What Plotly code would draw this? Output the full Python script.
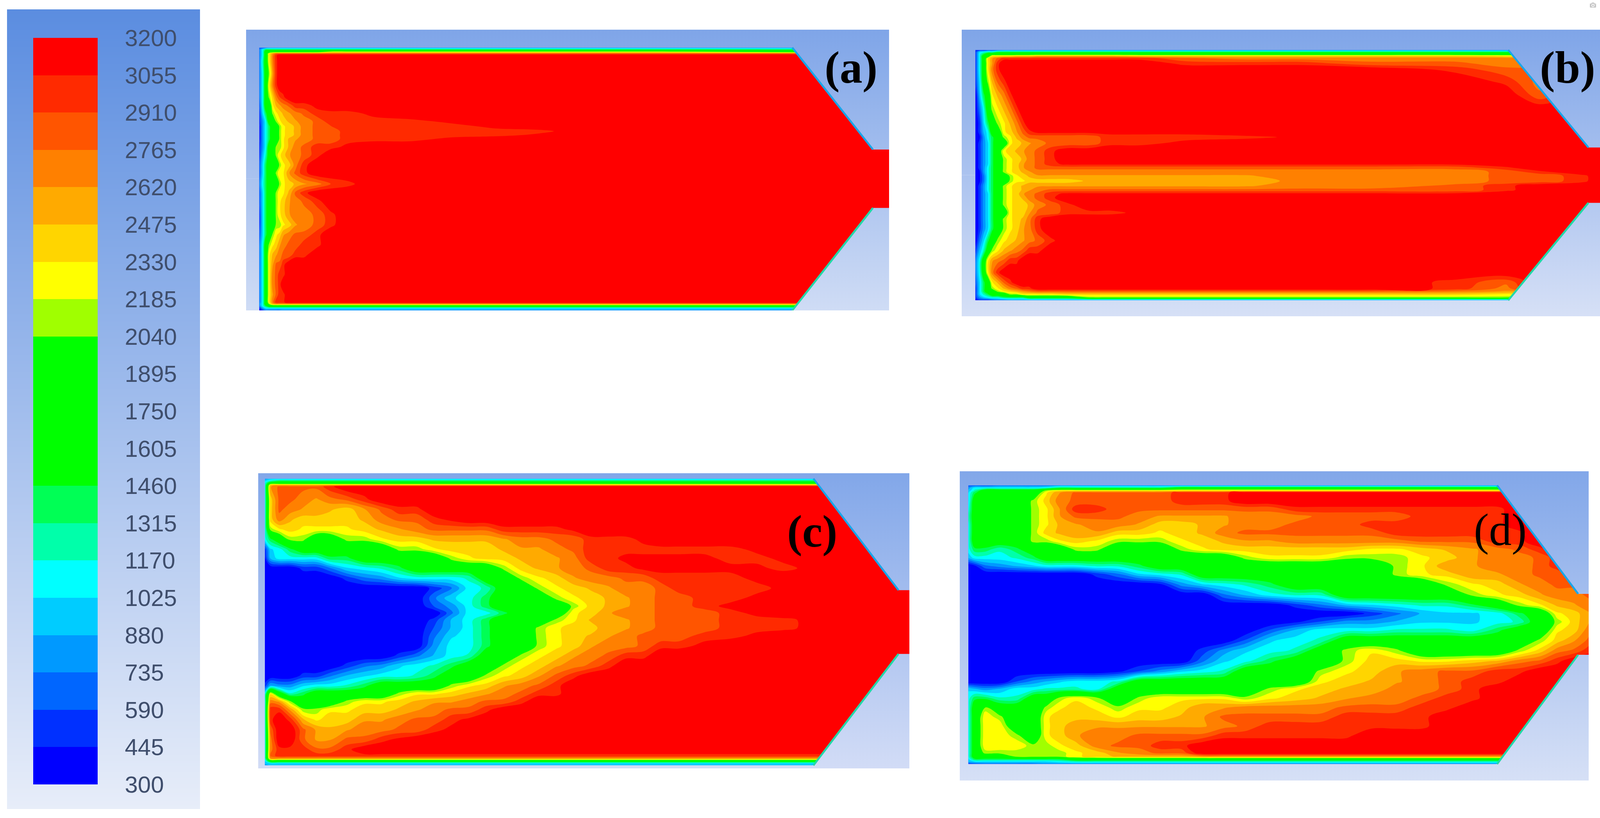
import plotly.graph_objects as go

W, H = 4124, 2095
TICKS = [3200,3055,2910,2765,2620,2475,2330,2185,2040,1895,1750,1605,1460,1315,1170,1025,880,735,590,445,300]
BANDS = ["#0000ff","#0030ff","#0066ff","#0099ff","#00ccff","#00ffff","#00ffaa","#00ff55","#00ff00","#00ff00",
         "#00ff00","#00ff00","#a0ff00","#ffff00","#ffd500","#ffaa00","#ff8000","#ff5500","#ff2a00","#ff0000"]

# temperatures in units of 100 K; a short row keeps its last value to the outlet
XA = [57,65,72,80,88,96,104,112,125,140,160,190,220,260,320,400,500,600,700,760,1000,1280,1502]
YA = [160,170,180,190,198,230,290,350,410,450,490,530,555,580,600,620,660,700,750,790,845,890,930,1000,1050,1100,1150,1200,1250,1300,1350,1400,1440,1448,1458,1470,1480]
TA = [
[6,6,7,8],
[7,11,14],
[7,11,17,17,17,17,17,17,17,17,17,17,21,21,21,21,21,21,21,21,21,17],
[7,11,17,23,26,28],
[7,11,17,23,27,30,32],
[7,12,17,23,27,30,32],
[7,11,17,21,26,30,32],
[7,11,17,23,27,30,32],
[7,11,17,21,24,27,29,30,32],
[6,11,17,17,23,25,26,27,28,30,30,31,32],
[5,10,14,17,21,23,24,25,26,27,28,30,30,30,31,32],
[5,8,11,17,17,21,23,24,25,26,27,28,30,30,30,30,31,32],
[4,8,11,14,17,17,21,23,24,25,27,28,29,30,30,30,30,31,32],
[4,8,11,14,17,17,21,23,24,25,27,28,28,30,30,30,30,30,30,31,32],
[4,8,11,14,17,17,21,23,24,25,27,28,28,30,30,30,30,30,31,32],
[4,8,11,14,17,17,21,23,25,26,27,28,28,30,30,30,31,32],
[5,8,11,17,17,21,21,23,25,27,28,30,30,31,32],
[5,9,12,17,17,21,23,24,26,27,28,30,32],
[6,10,14,17,17,17,21,23,24,27,30,32],
[6,10,14,17,17,21,23,23,26,28,30,32],
[7,11,14,17,17,17,21,23,24,25,26,27,29,30,32],
[6,10,14,17,17,21,23,23,25,28,30,32],
[6,10,14,17,17,21,23,24,26,27,28,30,32],
[5,10,14,17,17,21,23,24,26,27,27,28,30,32],
[5,10,14,17,17,21,21,23,24,26,27,28,30,32],
[6,10,14,17,21,23,24,26,27,28,28,30,32],
[7,11,17,21,23,24,26,27,28,28,30,30,32],
[7,11,17,23,25,26,27,28,28,30,30,32],
[7,11,17,23,26,28,28,30,32],
[7,11,17,23,27,28,30,30,32],
[7,11,17,23,27,28,30,32],
[7,11,17,23,26,28,30,30,32],
[7,11,17,23,27,30,30,30,32],
[8,11,17,21,25,26],
[7,11,14,17],
[4,8,10,10],
[3,5,7,7,7,7,7,8],
]

XB = [62,72,82,92,102,115,130,145,160,175,190,210,240,280,330,380,450,560,700,840,1000,1200,1320,1400,1500,1549]
YB = [172,182,192,202,214,240,270,330,400,470,540,585,610,640,680,720,745,765,785,805,830,855,875,895,915,950,990,1020,1070,1130,1180,1230,1290,1340,1370,1385,1400,1415,1430]
TB = [
[5,5,5,6,6,7,8],
[5,10,11,12,12,14],
[5,11,14,17],
[5,11,17,17,23,23,23,23,24,24,24,25,25,25,25,25,24,24,24,24,24,24,23],
[5,11,17,23,26,28,30,30,30,30,30,30,30,30,30,30,30,28,27,27,27,27,27],
[5,11,17,23,26,30,32,32,32,32,32,32,32,32,32,32,32,30,30,30,28,28,27],
[5,11,17,23,27,30,32,32,32,32,32,32,32,32,32,32,32,32,32,32,32,30,28,28,32],
[5,10,17,21,25,28,30,32,32,32,32,32,32,32,32,32,32,32,32,32,32,32,30,27,32],
[3,9,14,17,23,25,27,30,32,32,32,32,32,32,32,32,32,32,32,32,32,32,32,28,32],
[3,7,11,17,21,23,25,27,30,32],
[3,5,10,14,17,21,23,25,27,30,32],
[3,5,9,11,17,17,23,24,26,28,30,31,31,31,31,31,31,31,32],
[3,4,8,11,14,17,21,23,25,27,28,28,28,28,28,30,30,30,30,31,32],
[3,5,8,10,14,17,17,23,24,25,26,27,28,28,28,30,30,31,32],
[3,5,8,10,14,17,23,24,25,26,27,28,30,32],
[3,5,8,10,14,17,21,23,24,25,27,28,30,32],
[3,5,8,10,14,17,21,23,24,26,27,28,30,31,31,31,31,31,31,31,31,31,32],
[3,5,8,11,14,17,21,23,24,26,27,28,28,28,28,28,28,28,28,28,28,28,30,32],
[3,4,8,11,14,17,21,23,24,25,26,27,27,27,27,27,27,27,27,27,27,27,28,30,32],
[3,4,7,11,14,17,17,21,23,24,25,26,26,26,26,26,26,26,26,27,27,27,28,28,30,32],
[3,4,7,11,14,17,17,21,23,23,24,24,24,24,25,25,25,25,25,27,27,27,28,28,30,32],
[3,5,8,11,14,17,21,23,24,25,26,26,26,26,26,26,26,26,26,27,27,28,30,32],
[3,5,8,11,14,17,21,23,24,25,26,27,28,28,28,28,28,28,28,28,28,28,30,32],
[3,5,8,10,14,17,21,23,24,26,27,28,30,31,31,31,31,31,31,31,31,31,32],
[3,5,8,10,14,17,21,23,24,25,27,28,30,32],
[3,5,8,10,14,17,21,23,24,24,25,27,28,30,32],
[3,5,8,10,14,17,17,23,24,24,26,28,28,30,30,30,31,32],
[3,5,8,10,14,17,21,23,24,25,27,30,32],
[3,5,8,10,14,17,21,23,24,26,27,30,32],
[3,7,10,14,17,21,23,24,25,26,27,28,30,32],
[5,9,12,17,21,23,25,26,27,28,30,30,32],
[7,11,17,23,26,27,28,30,30,32],
[7,11,17,23,27,30,32],
[6,10,14,17,23,25,28,30,32,32,32,32,32,32,32,32,32,32,32,32,32,30,28,32],
[5,10,14,17,21,23,25,27,28,30,30,32,32,32,32,32,32,32,32,32,32,30,27,32],
[5,10,14,17,17,21,23,24,25,26,27,28,28,28,28,28,28,28,28,28,28,27,26],
[5,10,12,14,17,17,17,21,21,23,23,23,23,24,24,24,24,24,24,24,24,24,23],
[5,8,10,11,12,12,14,14,14,14,17,17,17,17,21,21,21,21,21,21,21,21,21,17],
[3,5,5,5,6,7,7,8],
]

XC = [52,65,85,110,140,170,200,240,280,320,360,400,440,480,520,560,600,640,680,720,760,800,840,880,920,960,1000,1060,1120,1180,1240,1300,1400,1530]
YC = [70,82,92,102,110,175,225,275,325,375,425,470,520,570,620,670,710,745,780,820,860,910,960,1010,1060,1110,1150,1190,1230,1280,1330,1380,1430,1462,1475,1488,1500,1510]
TC = [
[8,9],
[10,12,14],
[11,17],
[11,24,25],
[11,26,28,28,28,28,30,32],
[11,24,28,28,27,26,27,28,30,32],
[11,24,28,27,26,26,25,24,26,28,30,30,32],
[11,24,27,25,24,24,24,24,25,27,28,28,30,31,32],
[11,21,23,24,23,23,23,23,24,25,26,27,28,28,28,28,30,30,30,30,31,32],
[11,14,17,21,21,17,17,21,21,23,24,24,25,25,25,25,26,27,27,28,28,30,30,30,31,32],
[5,10,11,14,17,17,17,17,17,17,21,21,23,24,24,24,25,26,26,27,28,30,30,30,30,30,30,30,30,31,32],
[4,9,11,11,11,11,14,14,17,17,17,17,17,21,23,24,24,25,26,26,27,30,30,31,31,31,31,31,30,30,31,32],
[3,3,3,3,5,5,7,10,11,12,14,17,17,17,17,17,21,24,25,26,27,28,30,30,31,31,31,31,31,31,30,31,32],
[3,3,3,3,3,3,3,5,7,8,10,11,11,11,12,17,17,21,23,24,26,27,27,28,28,30,30,30,30,31,32],
[3]*12+[5,7,11,12,17,17,21,23,24,25,26,27,27,28,30,30,30,30,31,32],
[3]*12+[7,10,11,14,17,17,17,21,23,24,25,26,27,28,28,30,30,31,32],
[3]*12+[6,8,11,14,17,17,17,17,21,24,25,26,27,28,28,30,31,32],
[3]*13+[7,11,11,14,17,17,17,23,24,26,27,27,28,28,28,30,31,32],
[3]*12+[5,9,11,14,17,17,17,21,23,25,26,26,27,28,28,28,30,30,30,31,32],
[3]*12+[6,9,11,14,17,17,21,23,24,24,26,26,27,28,28,28,30,30,30,31,32],
[3]*12+[7,10,11,14,17,17,21,23,24,25,26,27,28,28,28,30,30,31,32],
[3]*12+[8,11,11,14,17,17,21,23,24,26,27,27,28,30,30,31,32],
[3]*10+[5,7,9,11,12,17,17,21,23,24,26,27,28,30,30,32],
[3]*7+[5,7,8,10,11,12,14,17,17,21,23,24,26,27,28,30,32],
[3,3,3,3,5,5,7,9,10,11,11,12,14,17,17,21,23,24,26,28,30,32],
[5,9,8,8,10,11,11,12,14,17,17,17,17,21,23,24,26,27,28,30,32],
[11,23,17,12,14,17,17,17,17,17,21,23,23,24,25,26,27,28,30,30,32],
[11,27,26,21,17,17,17,21,23,23,24,25,26,26,27,28,28,30,32],
[11,30,30,26,21,21,23,23,24,24,25,26,27,28,28,30,32],
[11,30,32,30,25,23,24,24,26,26,27,28,28,30,31,32],
[11,28,32,32,28,26,25,26,27,27,28,28,30,31,32],
[11,27,32,32,28,26,26,28,28,30,31,32],
[11,27,30,30,30,28,28,30,32],
[11,28,30],
[11,26],
[10,17],
[9,10],
[8,9],
]

XD = [45,60,85,120,160,200,230,260,300,350,400,450,500,550,600,650,700,760,820,880,940,1000,1060,1120,1180,1240,1300,1350,1400,1440,1480,1515]
YD = [100,113,125,135,175,215,250,290,330,370,410,450,490,530,580,630,680,720,760,800,850,900,950,1000,1050,1085,1130,1175,1220,1265,1310,1360,1395,1412,1425,1437,1448]
TD = [
[6,6,6,7,7,7,7,8],
[8,11,11,11,11,11,12,14,14,14,14,14,14,17],
[9,12,17,17,17,17,21,23],
[10,14,17,17,17,17,23,26,28,28,28,28,28,30,30,30,32],
[10,17,17,17,17,21,24,27,28,28,28,28,28,30,30,30,32],
[11,17,17,17,17,21,23,26,30,30,28,28,28,28,28,28,28,28,30,30,30,30,30,30,30,30,30,32],
[12,17,17,17,17,21,23,26,28,28,28,27,26,26,26,26,27,27,27,28,28,28,28,30,30,30,30,32],
[11,17,17,17,17,21,23,25,26,27,27,26,24,24,25,26,27,27,28,28,28,30,30,30,30,30,30,32],
[11,17,17,17,17,21,24,25,26,26,24,24,23,24,25,27,28,28,28,28,28,28,30,30,30,30,30,30,32],
[11,17,17,17,17,21,21,23,24,23,21,21,21,23,24,25,26,26,27,27,27,27,27,28,28,28,30,30,32],
[11,14,14,12,14,17,17,17,21,21,17,17,17,21,23,24,24,24,24,24,24,23,23,24,25,26,27,28,30,32],
[9,11,11,11,12,14,17,17,17,17,17,17,17,17,17,17,21,23,23,23,21,21,21,23,24,26,27,27,28,30,32],
[3,4,7,8,9,10,11,11,11,12,12,14,17,17,17,17,17,17,17,17,17,17,21,23,26,26,27,27,28,30,32],
[3,3,3,3,3,3,3,3,3,5,7,10,11,12,17,17,17,17,17,17,17,17,21,23,24,26,26,27,28,28,30,32],
[3]*12+[4,8,10,11,12,14,17,17,17,17,17,17,21,23,24,26,27,28,28,30],
[3]*15+[7,9,11,12,12,17,17,17,17,17,21,23,24,26,27,27,28],
[3]*18+[5,7,9,10,11,12,12,14,17,21,23,25,26,27],
[3]*21+[5,7,9,10,10,11,14,17,23,24,26],
[3]*18+[4,6,8,8,9,10,10,10,11,12,17,21,24,26],
[3]*17+[6,9,11,11,11,12,12,12,11,14,17,17,23,24,27],
[3]*16+[6,10,11,12,17,17,17,17,17,17,17,17,21,24,26,28],
[3]*14+[5,8,10,11,12,17,21,23,21,17,17,17,17,21,24,27,28,30],
[3]*14+[7,10,11,14,17,17,21,24,24,23,23,24,25,27,28,30,32],
[3]*10+[4,6,8,10,11,12,17,17,17,21,23,24,26,27,28,28,30,30,32],
[3,3,3,3,6,8,9,10,11,11,12,17,17,17,17,17,17,17,17,23,24,25,26,27,28,30,30,32],
[10,9,8,9,11,11,12,12,12,11,17,17,17,17,17,17,17,21,23,24,25,25,27,27,28,30,32],
[11,14,14,12,12,17,17,21,23,21,17,21,23,23,23,23,21,23,24,25,26,27,27,28,30,30,32],
[11,17,21,17,17,17,21,23,24,23,21,23,23,24,26,26,27,27,27,27,28,28,28,30,30,32],
[11,17,23,21,17,17,23,24,24,24,23,24,24,25,26,28,28,28,28,28,30,30,30,30,32],
[11,17,23,23,17,17,23,24,26,26,26,26,26,26,26,27,28,30,30,30,30,30,30,30,32],
[11,17,23,23,21,17,23,24,26,27,27,28,28,28,28,30,30,30,30,30,30,32],
[11,17,23,23,23,21,21,23,24,27,28,28,30,30,32],
[11,17,21,21,21,21,21,21,23,24,26,27,28,28,32],
[11,17,17,17,21,21,21,21,23,24,25,25,25,25,26],
[10,14,14,14,14,14,14,14,17],
[9,10,10,10,10,10,10,11,12],
[5,6,7,7,7,7,8],
]

# panel frames (reference pixels) and their units, gradient colours, nozzle outline
PANELS = [
 dict(name="<b>(a)</b>", box=(630,76,2276,795), xr=(27,1502), yr=(70,1480), x=XA,y=YA,t=TA, top="#7fa5e8",bot="#cfdcf5",
      wall=(57,160,1480,1280,1465,672,965), lab=(1415,260)),
 dict(name="<b>(b)</b>", box=(2462,76,4103,810), xr=(30,1549), yr=(70,1510), x=XB,y=YB,t=TB, top="#7fa5e8",bot="#d6e0f6",
      wall=(62,172,1430,1325,1515,662,940), lab=(1466,260)),
 dict(name="<b>(c)</b>", box=(661,1212,2328,1968), xr=(37,1530), yr=(43,1525), x=XC,y=YC,t=TC, top="#82a7e9",bot="#d2dcf6",
      wall=(52,70,1510,1310,1505,630,950), lab=(1307,335)),
 dict(name="(d)", box=(2457,1207,4067,1999), xr=(25,1515), yr=(32,1528), x=XD,y=YD,t=TD, top="#82a7e9",bot="#d6e0f6",
      wall=(45,100,1448,1298,1490,625,920), lab=(1305,315)),
]
LEGEND_BOX = (18,24,512,2072)
LEGEND_TOP, LEGEND_BOT = "#5b8de0", "#e7edf9"

n = len(BANDS)
cscale = []
for i, c in enumerate(BANDS):
    cscale += [[i/n, c], [(i+1)/n, c]]

fig = go.Figure()

def axis_pair(idx, box, xr, yr):
    sx = "" if idx == 1 else str(idx)
    fig.update_layout({
        "xaxis"+sx: dict(domain=[box[0]/W, box[2]/W], range=list(xr), visible=False, fixedrange=True,
                         anchor="y"+sx),
        "yaxis"+sx: dict(domain=[1-box[3]/H, 1-box[1]/H], range=[yr[1], yr[0]], visible=False, fixedrange=True,
                         anchor="x"+sx),
    })
    return "x"+sx, "y"+sx

# legend background
lx, ly = axis_pair(5, LEGEND_BOX, (0,1), (0,1))
fig.add_trace(go.Heatmap(x=[0,1], y=[0,1], z=[[0,0],[1,1]], zsmooth="best", showscale=False, hoverinfo="skip",
                         colorscale=[[0,LEGEND_TOP],[1,LEGEND_BOT]], xaxis=lx, yaxis=ly))

annotations = []
for k, p in enumerate(PANELS):
    xa, ya = axis_pair(k+1, p["box"], p["xr"], p["yr"])
    nx = len(p["x"])
    z = [[v*100 for v in (r + [r[-1]]*(nx-len(r)))[:nx]] for r in p["t"]]
    cb = dict(
        x=85/W, xanchor="left", xpad=0, y=1-2009/H, yanchor="bottom", ypad=0,
        lenmode="pixels", len=1912, thicknessmode="pixels", thickness=165,
        outlinewidth=0, tickmode="array", tickvals=TICKS, ticktext=[str(t) for t in TICKS],
        ticks="outside", ticklen=58, tickcolor="rgba(0,0,0,0)", tickwidth=1,
        tickfont=dict(family="Liberation Sans", size=60, color="#3f4e6c"),
    )
    fig.add_trace(go.Contour(
        x=p["x"], y=p["y"], z=z, xaxis=xa, yaxis=ya, zmin=300, zmax=3200, colorscale=cscale,
        autocontour=False, contours=dict(start=300, end=3200, size=145, coloring="fill", showlines=False),
        line=dict(width=0), hoverinfo="skip", showscale=(k == 0), colorbar=cb if k == 0 else None,
    ))
    left, top, bottom, sx, tx, ty0, ty1 = p["wall"]
    x0, x1 = p["xr"]; y0, y1 = p["yr"]
    mid = (ty0+ty1)/2
    grad = dict(type="vertical", start=y0, stop=y1, colorscale=[[0,p["top"]],[1,p["bot"]]])
    fig.add_trace(go.Scatter(x=[x0,x1,x1,tx,sx,left,left,x0,x0], y=[y0,y0,ty0,ty0,top,top,mid,mid,y0],
                             mode="lines", line=dict(width=0), fill="toself", fillgradient=grad,
                             hoverinfo="skip", showlegend=False, xaxis=xa, yaxis=ya))
    fig.add_trace(go.Scatter(x=[x0,left,left,sx,tx,x1,x1,x0,x0], y=[mid,mid,bottom,bottom,ty1,ty1,y1,y1,mid],
                             mode="lines", line=dict(width=0), fill="toself", fillgradient=grad,
                             hoverinfo="skip", showlegend=False, xaxis=xa, yaxis=ya))
    fig.add_trace(go.Scatter(x=[sx,tx], y=[top,ty0], mode="lines", line=dict(color="#18a6ea", width=5),
                             hoverinfo="skip", showlegend=False, xaxis=xa, yaxis=ya))
    fig.add_trace(go.Scatter(x=[sx,tx], y=[bottom,ty1], mode="lines", line=dict(color="#22d8a8", width=5),
                             hoverinfo="skip", showlegend=False, xaxis=xa, yaxis=ya))
    annotations.append(dict(text=p["name"], x=p["lab"][0], y=p["lab"][1], xref=xa, yref=ya,
                            showarrow=False, font=dict(family="Liberation Serif", size=116, color="black")))

fig.update_layout(width=W, height=H, margin=dict(l=0,r=0,t=0,b=0), paper_bgcolor="white", plot_bgcolor="white",
                  showlegend=False, annotations=annotations)
fig.write_html("out.html", post_script="document.body.style.margin='0';")
